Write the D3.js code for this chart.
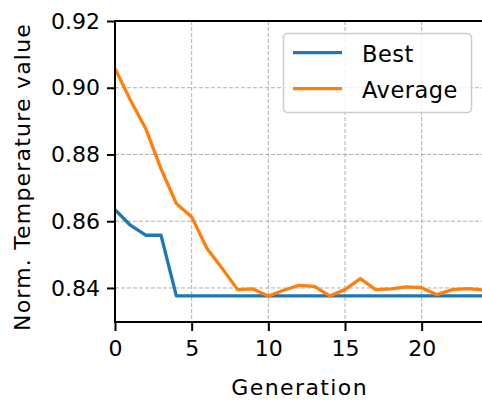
<!DOCTYPE html>
<html>
<head>
<meta charset="utf-8">
<script src="https://cdn.jsdelivr.net/npm/d3@7"></script>
<style>
  body { margin: 0; background: #fff; }
  svg { display: block; font-family: "DejaVu Sans", sans-serif; }
</style>
</head>
<body>
<svg width="482" height="401"></svg>
<script>
// Data
const generations = d3.range(0, 25);
const bestValues = [
  0.8635, 0.8588, 0.8558, 0.8558, 0.8376, 0.8376, 0.8376, 0.8376, 0.8376,
  0.8376, 0.8376, 0.8376, 0.8376, 0.8376, 0.8376, 0.8376, 0.8376, 0.8376,
  0.8376, 0.8376, 0.8376, 0.8376, 0.8376, 0.8376, 0.8376,
];
const averageValues = [
  0.9058, 0.8963, 0.8878, 0.8757, 0.8653, 0.8613, 0.8518, 0.8458, 0.8395,
  0.8397, 0.8376, 0.8393, 0.8408, 0.8405, 0.8376, 0.8395, 0.8428, 0.8395,
  0.8397, 0.8403, 0.8401, 0.8380, 0.8395, 0.8398, 0.8394,
];
const seriesNames = ["Best", "Average"];
const seriesColors = ["#1f77b4", "#ff7f0e"];
const xTicks = [0, 5, 10, 15, 20];
const yTicks = [0.84, 0.86, 0.88, 0.90, 0.92];

const svg = d3.select("svg");
const plotLeft = 115, plotRight = 483, plotTop = 21, plotBottom = 322;

const x = d3.scaleLinear().domain([0, 24]).range([plotLeft, plotRight]);
const y = d3.scaleLinear().domain([0.8298, 0.92]).range([plotBottom, plotTop]);

// Grid
const grid = svg.append("g")
  .attr("stroke", "#b0b0b0")
  .attr("stroke-width", 1)
  .attr("stroke-dasharray", "4,2");
grid.selectAll(".gx")
  .data(xTicks)
  .enter()
  .append("line")
  .attr("x1", (d) => x(d))
  .attr("x2", (d) => x(d))
  .attr("y1", plotTop)
  .attr("y2", plotBottom);
grid.selectAll(".gy")
  .data(yTicks)
  .enter()
  .append("line")
  .attr("x1", plotLeft)
  .attr("x2", plotRight)
  .attr("y1", (d) => y(d))
  .attr("y2", (d) => y(d));

// Lines
const line = d3.line()
  .x((d, i) => x(generations[i]))
  .y((d) => y(d));
[bestValues, averageValues].forEach((vals, k) => {
  svg.append("path")
    .datum(vals)
    .attr("fill", "none")
    .attr("stroke", seriesColors[k])
    .attr("stroke-width", 3.3)
    .attr("stroke-linejoin", "round")
    .attr("d", line);
});

// Axes
const xAxis = svg.append("g")
  .attr("transform", `translate(0,${plotBottom})`)
  .call(d3.axisBottom(x).tickValues(xTicks).tickSize(9).tickPadding(9).tickFormat(d3.format("d")));
const yAxis = svg.append("g")
  .attr("transform", `translate(${plotLeft},0)`)
  .call(d3.axisLeft(y).tickValues(yTicks).tickSize(8).tickPadding(7).tickFormat(d3.format(".2f")));
[xAxis, yAxis].forEach((g) => {
  g.select(".domain").remove();
  g.selectAll("line").attr("stroke", "#000").attr("stroke-width", 2);
  g.selectAll("text")
    .attr("fill", "#000")
    .style("font-size", "22px")
    .style("font-family", "DejaVu Sans");
});

// Spines
svg.append("rect")
  .attr("x", plotLeft)
  .attr("y", plotTop)
  .attr("width", plotRight - plotLeft)
  .attr("height", plotBottom - plotTop)
  .attr("fill", "none")
  .attr("stroke", "#000")
  .attr("stroke-width", 2);

// Axis labels
svg.append("text")
  .attr("x", (plotLeft + plotRight) / 2 + 0.7)
  .attr("y", 395)
  .attr("text-anchor", "middle")
  .style("font-size", "22px")
  .style("letter-spacing", "1.4px")
  .text("Generation");
svg.append("text")
  .attr("transform", `translate(29.5,177) rotate(-90)`)
  .attr("text-anchor", "middle")
  .style("font-size", "22px")
  .style("letter-spacing", "1.2px")
  .text("Norm. Temperature value");

// Legend
const legend = svg.append("g");
legend.append("rect")
  .attr("x", 283.5)
  .attr("y", 33.5)
  .attr("width", 188)
  .attr("height", 79)
  .attr("rx", 4)
  .attr("fill", "#fff")
  .attr("fill-opacity", 0.8)
  .attr("stroke", "#cccccc")
  .attr("stroke-width", 1.5);
const legendY = [52.7, 88.7];
seriesNames.forEach((name, i) => {
  legend.append("line")
    .attr("x1", 293)
    .attr("x2", 342)
    .attr("y1", legendY[i])
    .attr("y2", legendY[i])
    .attr("stroke", seriesColors[i])
    .attr("stroke-width", 3.3);
  legend.append("text")
    .attr("x", 362)
    .attr("y", legendY[i] + 9.5)
    .style("font-size", "22.5px")
    .style("letter-spacing", "0.5px")
    .text(name);
});
</script>
</body>
</html>
